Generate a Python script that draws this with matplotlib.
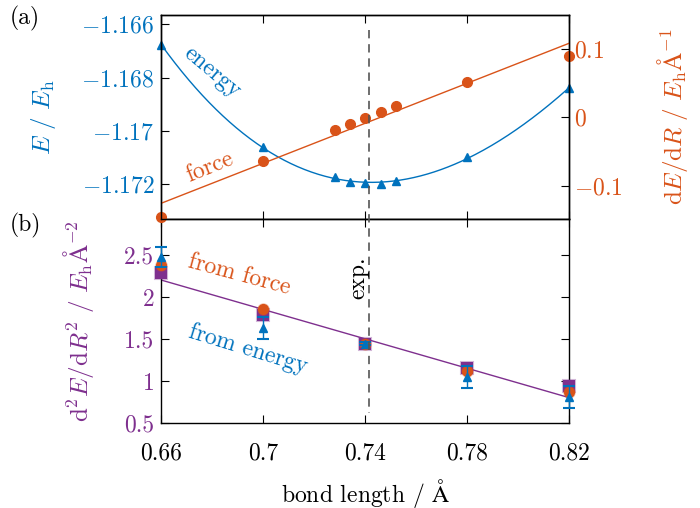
import numpy as np
import matplotlib
matplotlib.use("Agg")
import matplotlib.pyplot as plt
from matplotlib.lines import Line2D
import matplotlib.transforms as mtransforms

plt.rcParams['font.family'] = ['cmr10', 'STIXGeneral']
plt.rcParams['mathtext.fontset'] = 'cm'
plt.rcParams['axes.unicode_minus'] = False
plt.rcParams['axes.formatter.use_mathtext'] = True

BLUE = '#0072BD'
ORANGE = '#D95319'
PURPLE = '#7E2F8E'

# ---- data (panel a) ----
bond = [0.66, 0.70, 0.728, 0.734, 0.74, 0.746, 0.752, 0.78, 0.82]
energy = [-1.16678, -1.17062, -1.17173, -1.17192, -1.17198, -1.17199, -1.17189, -1.17098, -1.16839]
force = [-0.1466, -0.0637, -0.0186, -0.0090, -0.0010, 0.0084, 0.0172, 0.0515, 0.0897]
force_fit_x = [0.66, 0.82]
force_fit_y = [-0.126, 0.109]

# ---- data (panel b) ----
bond_b = [0.66, 0.70, 0.74, 0.78, 0.82]
d2_fit_pts = [2.286, 1.79, 1.44, 1.162, 0.944]
d2_force = [2.385, 1.857, 1.44, 1.123, 0.873]
d2_energy = [2.48, 1.638, 1.45, 1.051, 0.813]
d2_energy_err = [0.12, 0.13, 0.02, 0.127, 0.127]
d2_line_x = [0.66, 0.82]
d2_line_y = [2.206, 0.805]

exp_bond = 0.7414

xticks = [0.66, 0.70, 0.74, 0.78, 0.82]
xticklabels = ['0.66', '0.7', '0.74', '0.78', '0.82']
e_ticks = [-1.166, -1.168, -1.17, -1.172]
e_ticklabels = [r'$-1.166$', r'$-1.168$', r'$-1.17$', r'$-1.172$']
f_ticks = [0.1, 0.0, -0.1]
f_ticklabels = [r'$0.1$', r'$0$', r'$-0.1$']
b_ticks = [0.5, 1, 1.5, 2, 2.5]
b_ticklabels = ['0.5', '1', '1.5', '2', '2.5']

W, H = 700, 508
fig = plt.figure(figsize=(7.0, 5.08), dpi=100)

def fx(px):
    return px / W

def fy(py):
    return 1 - py / H

L, R = 161.3, 569.3
T, M, B = 15.0, 219.3, 423.3
ax1 = fig.add_axes([fx(L), fy(M), fx(R) - fx(L), fy(T) - fy(M)])
ax2 = fig.add_axes([fx(L), fy(B), fx(R) - fx(L), fy(M) - fy(B)])
ax1r = ax1.twinx()

FS = 17
LFS = 18
tick_kw = dict(direction='in', length=6, width=0.8)

# Panel a: energy
coef = np.polyfit(bond, energy, 3)
xs = np.linspace(0.66, 0.82, 300)
ax1.plot(xs, np.polyval(coef, xs), color=BLUE, lw=1.0)
ax1.plot(bond, energy, ls='none', marker='^', ms=6, color=BLUE, mec=BLUE, clip_on=False)
ax1.set_xlim(0.66, 0.82)
ax1.set_ylim(-1.17333, -1.16565)
ax1.set_yticks(e_ticks)
ax1.set_yticklabels(e_ticklabels, color=BLUE, fontsize=FS)
ax1.set_xticks(xticks)
ax1.set_xticklabels([])
ax1.tick_params(axis='x', top=True, bottom=True, **tick_kw)
ax1.tick_params(axis='y', left=True, right=False, pad=5, **tick_kw)
ax1.set_ylabel(r'$E\ /\ E_{\mathrm{h}}$', color=BLUE, fontsize=LFS, va='center')
ax1.yaxis.set_label_coords((43 - L) / (R - L), 0.5)

# Panel a: force
ax1r.plot(force_fit_x, force_fit_y, color=ORANGE, lw=1.0)
ax1r.plot(bond, force, ls='none', marker='o', ms=7, color=ORANGE, clip_on=False)
ax1r.set_ylim(-0.1496, 0.1504)
ax1r.set_yticks(f_ticks)
ax1r.set_yticklabels(f_ticklabels, color=ORANGE, fontsize=FS)
ax1r.tick_params(axis='y', right=True, **tick_kw)
ax1r.set_ylabel(r'$\mathrm{d}E/\mathrm{d}R\ /\ E_{\mathrm{h}}\mathrm{\AA}^{-1}$', color=ORANGE,
                fontsize=LFS, va='center')
ax1r.yaxis.set_label_coords((673 - L) / (R - L), 0.5)

# Panel b
ax2.plot(d2_line_x, d2_line_y, color=PURPLE, lw=1.0)
ax2.plot(bond_b, d2_fit_pts, ls='none', marker='s', ms=8, color=PURPLE,
         mec=(0.494, 0.184, 0.557, 0.35), mew=1.5, clip_on=False, zorder=3)
ax2.plot(bond_b, d2_force, ls='none', marker='o', ms=8, color=ORANGE,
         mec=(0.851, 0.325, 0.098, 0.35), mew=1.0, clip_on=False, zorder=4)
eb = ax2.errorbar(bond_b, d2_energy, yerr=d2_energy_err, fmt='^', ms=6, color=BLUE,
                  ecolor=BLUE, elinewidth=1.0, capsize=4, capthick=1.5,
                  clip_on=False, zorder=5)
for cl in eb[1]:
    cl.set_color((0.0, 0.447, 0.741, 0.45))
ax2.set_xlim(0.66, 0.82)
ax2.set_ylim(0.5, 2.93)
ax2.set_xticks(xticks)
ax2.set_xticklabels(xticklabels, fontsize=FS)
ax2.set_yticks(b_ticks)
ax2.set_yticklabels(b_ticklabels, color=PURPLE, fontsize=FS)
ax2.tick_params(axis='x', top=True, bottom=True, pad=13.5, **tick_kw)
ax2.tick_params(axis='y', left=True, right=True, pad=5, **tick_kw)
ax2.set_ylabel(r'$\mathrm{d}^2E/\mathrm{d}R^2\ /\ E_{\mathrm{h}}\mathrm{\AA}^{-2}$', color=PURPLE,
               fontsize=LFS, va='center')
ax2.yaxis.set_label_coords((78 - L) / (R - L), 0.5)
ax2.set_xlabel(r'bond length / $\mathrm{\AA}$', fontsize=FS, va='baseline')
ax2.xaxis.set_label_coords(0.5, (B - 501.5) / (B - M))

for a in (ax1, ax2, ax1r):
    for s in a.spines.values():
        s.set_linewidth(1.0)

# experimental bond length line
trans = mtransforms.blended_transform_factory(ax2.transData, fig.transFigure)
fig.add_artist(Line2D([exp_bond, exp_bond], [fy(30), fy(413)], transform=trans,
                      color='#555555', lw=1.2, ls=(0, (5, 3.5))))

# annotations
fig.text(fx(212), fy(72), 'energy', color=BLUE, fontsize=FS, rotation=-40,
         ha='center', va='center', rotation_mode='anchor')
fig.text(fx(210), fy(167), 'force', color=ORANGE, fontsize=FS, rotation=22,
         ha='center', va='center', rotation_mode='anchor')
fig.text(fx(239), fy(275), 'from force', color=ORANGE, fontsize=FS, rotation=-15,
         ha='center', va='center', rotation_mode='anchor')
fig.text(fx(248), fy(349), 'from energy', color=BLUE, fontsize=FS, rotation=-17,
         ha='center', va='center', rotation_mode='anchor')
fig.text(fx(358), fy(278), 'exp.', color='black', fontsize=FS, rotation=90,
         ha='center', va='center', rotation_mode='anchor')
fig.text(fx(25), fy(18), '(a)', color='black', fontsize=FS, ha='center', va='center')
fig.text(fx(25), fy(225), '(b)', color='black', fontsize=FS, ha='center', va='center')

fig.savefig('out.png', dpi=100)
